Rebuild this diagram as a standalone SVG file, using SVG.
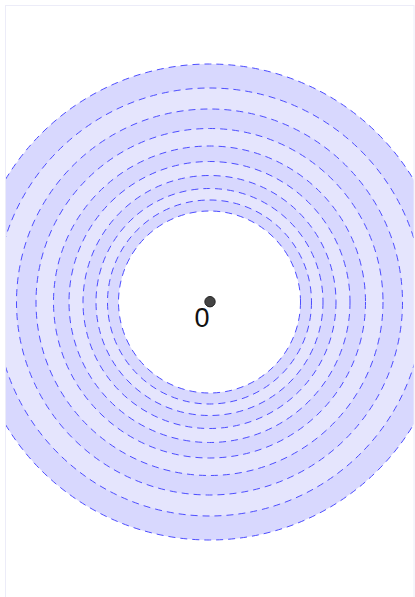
<svg xmlns="http://www.w3.org/2000/svg" width="415" height="597" viewBox="0 0 415 597">
<style>
.ring{stroke:#4d4dff;stroke-width:1;stroke-dasharray:7,5}
.d{fill:#d8d8fe}
.l{fill:#e5e5fd}
.w{fill:#ffffff}
</style>
<defs>
<clipPath id="frame"><rect x="5.5" y="5.5" width="408.5" height="600"/></clipPath>
</defs>
<rect x="0" y="0" width="415" height="597" fill="#ffffff"/>
<g id="rings" clip-path="url(#frame)">
<circle class="ring d" cx="209.5" cy="302" r="238"/>
<circle class="ring l" cx="209.5" cy="302" r="214"/>
<circle class="ring d" cx="209.5" cy="302" r="193"/>
<circle class="ring l" cx="209.5" cy="302" r="173.5"/>
<circle class="ring d" cx="209.5" cy="302" r="156"/>
<circle class="ring l" cx="209.5" cy="302" r="140.5"/>
<circle class="ring d" cx="209.5" cy="302" r="126.5"/>
<circle class="ring l" cx="209.5" cy="302" r="113.5"/>
<circle class="ring d" cx="209.5" cy="302" r="102"/>
<circle class="ring w" cx="209.5" cy="302" r="91"/>
</g>
<rect x="5.5" y="5.5" width="408.5" height="600" fill="none" stroke="#ececf8" stroke-width="1"/>
<g id="origin">
<circle cx="210" cy="301.7" r="5.2" fill="#444444" stroke="#222222" stroke-width="1"/>
<text x="202" y="327" text-anchor="middle" font-family="'Liberation Sans', Arial, sans-serif" font-size="27" fill="#111111">0</text>
</g>
</svg>
